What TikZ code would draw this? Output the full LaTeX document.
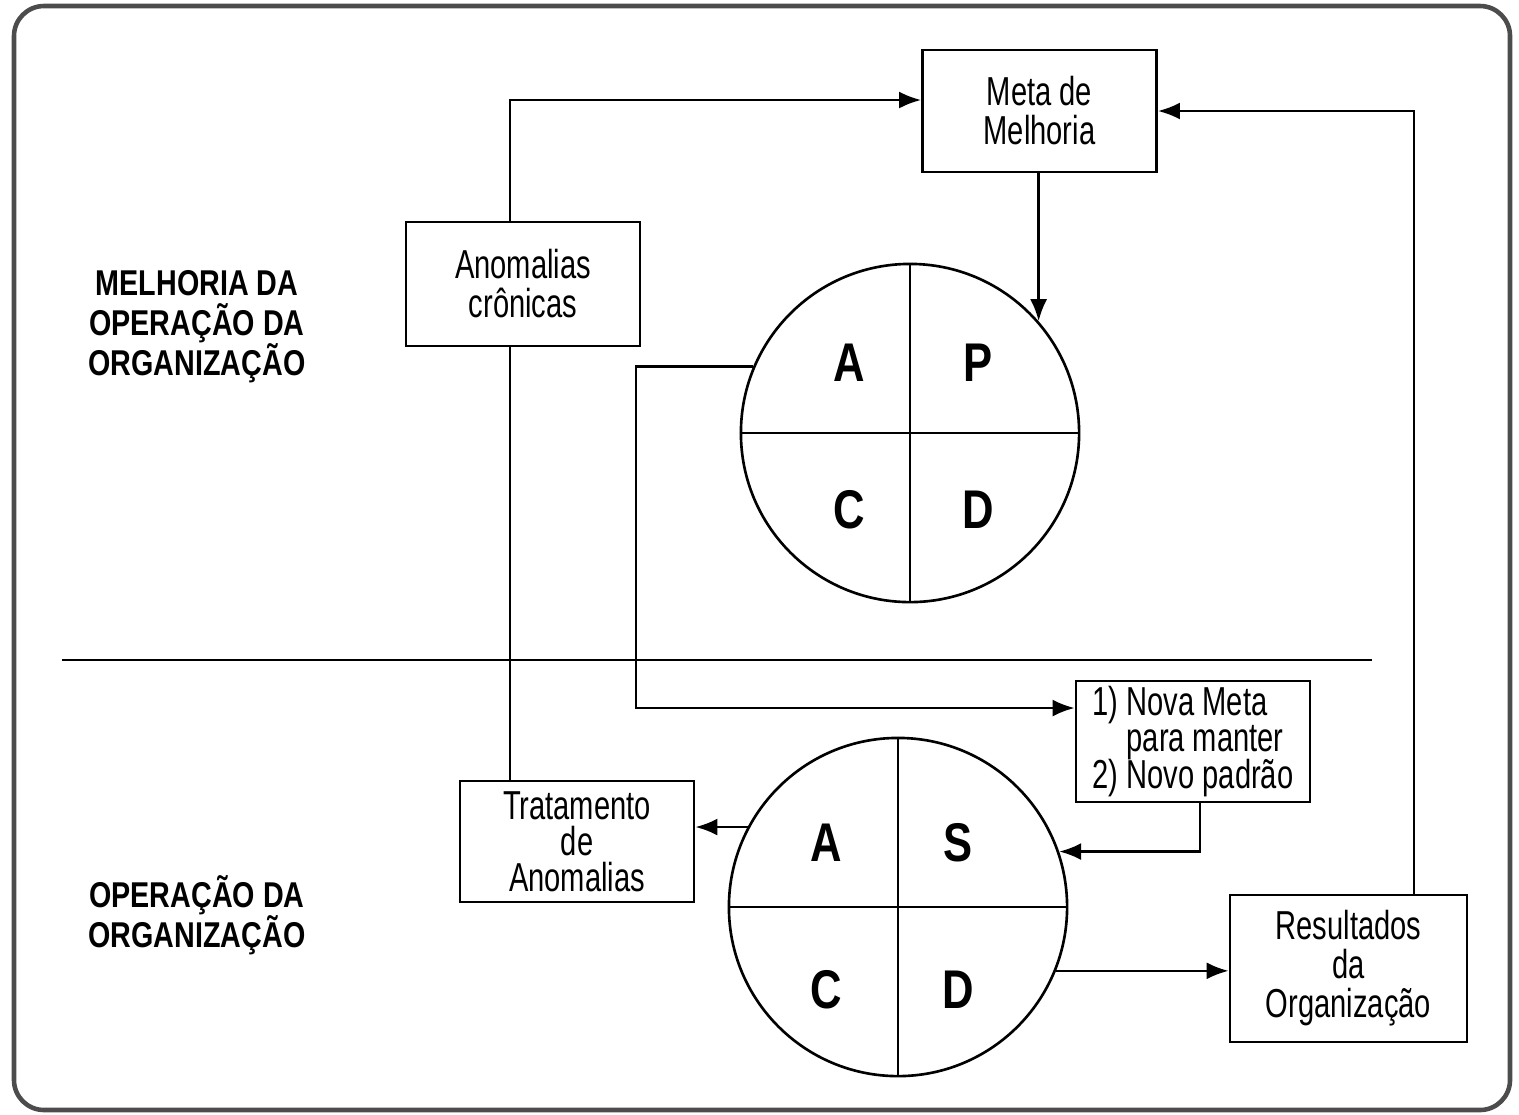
\documentclass[tikz,border=0pt]{standalone}
\usepackage{fontspec}
\setmainfont{Liberation Sans}[FakeStretch=0.72]
\newfontfamily\rotulofont{Liberation Sans}[FakeStretch=0.8]
\usetikzlibrary{positioning,arrows.meta}
\setlength{\lineskiplimit}{-10pt}

\begin{document}
\begin{tikzpicture}[x=0.01cm, y=-0.01cm,
		caixa/.style={draw, line width=0.75pt, minimum width=2.34cm, minimum height=1.22cm, inner sep=0pt, align=center, font=\fontsize{11.5}{11.1}\selectfont},
		apertada/.style={font=\fontsize{11.5}{10.3}\selectfont},
		ciclo/.style={draw, circle, line width=0.75pt, minimum size=3.38cm, inner sep=0pt},
		letra/.style={font=\rotulofont\fontsize{15.5}{15.5}\bfseries\selectfont},
		rotulo/.style={align=center, font=\rotulofont\fontsize{10.2}{11.4}\bfseries\selectfont},
		seta/.style={line width=0.75pt, -{Latex[length=2.2mm, width=1.7mm]}}]
				% \draw [step=100, gray, very thin] (0, 0) grid (1519, 1114);
				\useasboundingbox (0, 0) rectangle (1519, 1114);
				\draw [rounded corners=0.3cm, line width=1.3pt, black!70] (14, 6) rectangle (1510, 1110);
				\draw [line width=0.75pt] (62, 660) -- (1372, 660);
				\node [rotulo] (melhoria) at (197, 327) {MELHORIA DA\\OPERAÇÃO DA\\ORGANIZAÇÃO};
				\node [rotulo] (operacao) at (197, 915) {OPERAÇÃO DA\\ORGANIZAÇÃO};
				\node [caixa] (meta) at (1039.5, 111) {Meta de\\Melhoria};
				\node [caixa, minimum height=1.24cm] (cronicas) at (523, 284) {Anomalias\\crônicas};
				\node [caixa, apertada, minimum height=1.21cm, align=left] (novameta) at (1193, 741.5) {1) Nova Meta\\\phantom{1) }para manter\\2) Novo padrão};
				\node [caixa, apertada, minimum height=1.21cm] (tratamento) at (577, 841.5) {Tratamento\\de\\Anomalias};
				\node [caixa, minimum width=2.37cm, minimum height=1.47cm] (resultados) at (1348.5, 968.5) {Resultados\\da\\Organização};
				% ciclo de melhoria
				\node [ciclo] (pdca) at (910, 433) {};
				\draw [line width=0.75pt] (pdca.north) -- (pdca.south) (pdca.west) -- (pdca.east);
				\node [letra] (pa) at (849, 363) {A};
				\node [letra] (pp) at (978, 363) {P};
				\node [letra] (pc) at (849, 510) {C};
				\node [letra] (pd) at (978, 510) {D};
				% ciclo de manutencao
				\node [ciclo] (sdca) at (898, 907) {};
				\draw [line width=0.75pt] (sdca.north) -- (sdca.south) (sdca.west) -- (sdca.east);
				\node [letra] (sa) at (826, 843) {A};
				\node [letra] (ss) at (958, 843) {S};
				\node [letra] (sc) at (826, 990) {C};
				\node [letra] (sd) at (958, 990) {D};
				% ligacoes
				\coordinate (volta) at (636, 708);
				\draw [seta] ([xshift=-0.13cm]cronicas.north) |- ([yshift=0.11cm]meta.west);
				\draw [seta] (meta.south -| pdca.41) -- (pdca.41);
				\draw [seta] ([xshift=0.655cm]resultados.north) |- (meta.east);
				\draw [line width=0.75pt] ([xshift=-0.13cm]cronicas.south) -- ([xshift=-0.13cm]cronicas.south |- tratamento.north);
				\draw [seta] (pdca.157) -| (volta) -- (volta -| novameta.west);
				\draw [seta] ([xshift=0.07cm]novameta.south) |- (sdca.19);
				\draw [seta] (sdca.152.5) -- (sdca.152.5 -| tratamento.east);
				\draw [seta] (sdca.-22) -- (sdca.-22 -| resultados.west);
			\end{tikzpicture}
\end{document}
